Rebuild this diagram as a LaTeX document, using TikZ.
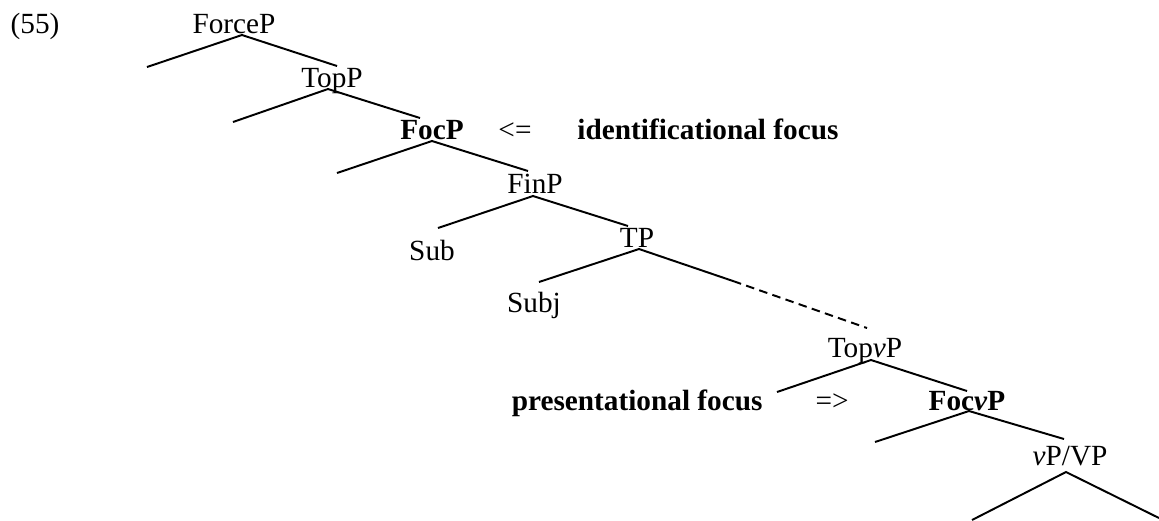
\documentclass[tikz,border=0pt]{standalone}
\usepackage{fontspec}
\setmainfont{Liberation Serif}
\begin{document}
\begin{tikzpicture}[x=0.41pt,y=-0.41pt,
  lbl/.style={inner sep=0pt,anchor=base,font=\fontsize{12}{14}\selectfont},
  blbl/.style={lbl,font=\fontsize{12}{14}\selectfont\bfseries},
  branch/.style={line width=0.8pt},
  dashbranch/.style={line width=0.8pt,dash pattern=on 3.5pt off 2.2pt}]
\useasboundingbox (0,0) rectangle (1159,520);
% labels
\node[lbl] (ex) at (35,33) {(55)};
\node[lbl] (forcep) at (234,33) {ForceP};
\node[lbl] (topp) at (332,87) {TopP};
\node[blbl] (focp) at (432,139) {FocP};
\node[lbl] (larr) at (515,139) {<=};
\node[blbl,anchor=base west] (idf) at (577,139) {identificational focus};
\node[lbl] (finp) at (535,193) {FinP};
\node[lbl] (sub) at (432,260) {Sub};
\node[lbl] (tp) at (637,247) {TP};
\node[lbl] (subj) at (534,312) {Subj};
\node[lbl] (topvp) at (865,357) {Top\textit{v}P};
\node[blbl,anchor=base east] (prf) at (763,410) {presentational focus};
\node[lbl] (rarr) at (832,410) {=>};
\node[blbl] (focvp) at (967,410) {Foc\textit{v}P};
\node[lbl] (vpvp) at (1070,465) {\textit{v}P/VP};
% branch points
\coordinate (a1) at (242,35);
\coordinate (l1) at (147,67);
\coordinate (a2) at (328,89);
\coordinate (l2) at (233,122);
\coordinate (a3) at (432,141);
\coordinate (l3) at (337,173);
\coordinate (a4) at (533,196);
\coordinate (l4) at (438,228);
\coordinate (a5) at (639,249);
\coordinate (l5) at (539,282);
\coordinate (r5) at (733,281);
\coordinate (d5) at (867,328);
\coordinate (a6) at (871,360);
\coordinate (l6) at (777,392);
\coordinate (a7) at (969,411);
\coordinate (l7) at (875,442);
\coordinate (a8) at (1066,472);
\coordinate (l8) at (972,520);
\coordinate (r8) at (1159,518);
% branches
\draw[branch] (l1) -- (a1) -- (337,66);
\draw[branch] (l2) -- (a2) -- (420,118);
\draw[branch] (l3) -- (a3) -- (528,171);
\draw[branch] (l4) -- (a4) -- (628,226);
\draw[branch] (l5) -- (a5) -- (r5);
\draw[dashbranch] (r5) -- (d5);
\draw[branch] (l6) -- (a6) -- (967,391);
\draw[branch] (l7) -- (a7) -- (1064,439);
\draw[branch] (l8) -- (a8) -- (r8);
\end{tikzpicture}
\end{document}
